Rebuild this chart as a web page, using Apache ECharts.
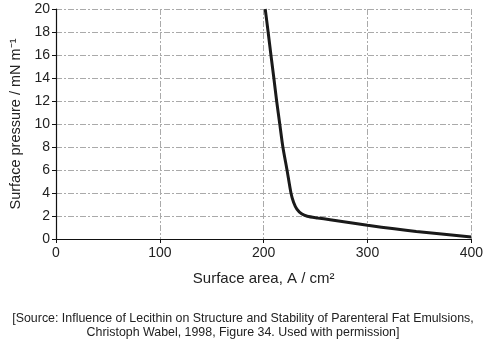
<!DOCTYPE html>
<html><head><meta charset="utf-8">
<script src="https://cdn.jsdelivr.net/npm/echarts@6/dist/echarts.min.js"></script>
<style>html,body{margin:0;padding:0;background:#fff}#c{width:486px;height:340px}</style>
</head><body><div id="c"></div>
<script>
const area = [201.5, 204.3, 207, 209.8, 212.5, 215.5, 218.5, 222.5, 226.3, 228.8, 232, 236.5, 242, 252, 264, 300, 347, 400];
const pressure = [20, 18, 16, 14, 12, 10, 8, 6, 4, 3.2, 2.6, 2.2, 1.98, 1.83, 1.68, 1.2, 0.66, 0.17];
const xTicks = [0, 100, 200, 300, 400];
const yTicks = [0, 2, 4, 6, 8, 10, 12, 14, 16, 18, 20];
const xTitle = 'Surface area, A / cm²';
const yTitle = 'Surface pressure / mN m⁻¹';
const source = ['[Source: Influence of Lecithin on Structure and Stability of Parenteral Fat Emulsions,', 'Christoph Wabel, 1998, Figure 34. Used with permission]'];

const pts = area.map((a,i)=>[a, pressure[i]]);
const font = 'Liberation Sans, Arial, sans-serif';
const gridLine = {show:true, lineStyle:{color:'#aaa', width:1, type:[6,2,2,2]}};
const chart = echarts.init(document.getElementById('c'), null, {renderer:'canvas'});
chart.setOption({
  animation:false,
  grid:{left:51, right:14, top:9, bottom:101, containLabel:false},
  xAxis:{type:'value', min:0, max:400, interval:100,
    name:xTitle, nameLocation:'middle', nameGap:32,
    nameTextStyle:{fontFamily:font, fontSize:15, color:'#222'},
    axisLine:{show:true, lineStyle:{color:'#111', width:1.2}},
    axisTick:{show:true, length:4, lineStyle:{color:'#111'}},
    axisLabel:{fontFamily:font, fontSize:14, color:'#222', margin:7},
    splitLine:gridLine},
  yAxis:{type:'value', min:0, max:20, interval:2,
    name:yTitle, nameLocation:'middle', nameGap:33,
    nameTextStyle:{fontFamily:font, fontSize:14.5, color:'#222'},
    axisLine:{show:true, lineStyle:{color:'#111', width:1.2}},
    axisTick:{show:true, length:4, lineStyle:{color:'#111'}},
    axisLabel:{fontFamily:font, fontSize:14, color:'#222', margin:6},
    splitLine:gridLine},
  graphic:[{type:'text', left:'center', top:312,
    style:{text:source.join('\n'), font:'12.4px '+font, fill:'#222', textAlign:'center', lineHeight:14}}],
  series:[{type:'line', data:pts, smooth:0.25, showSymbol:false,
    lineStyle:{color:'#1a1a1a', width:3}}]
});
</script></body></html>
